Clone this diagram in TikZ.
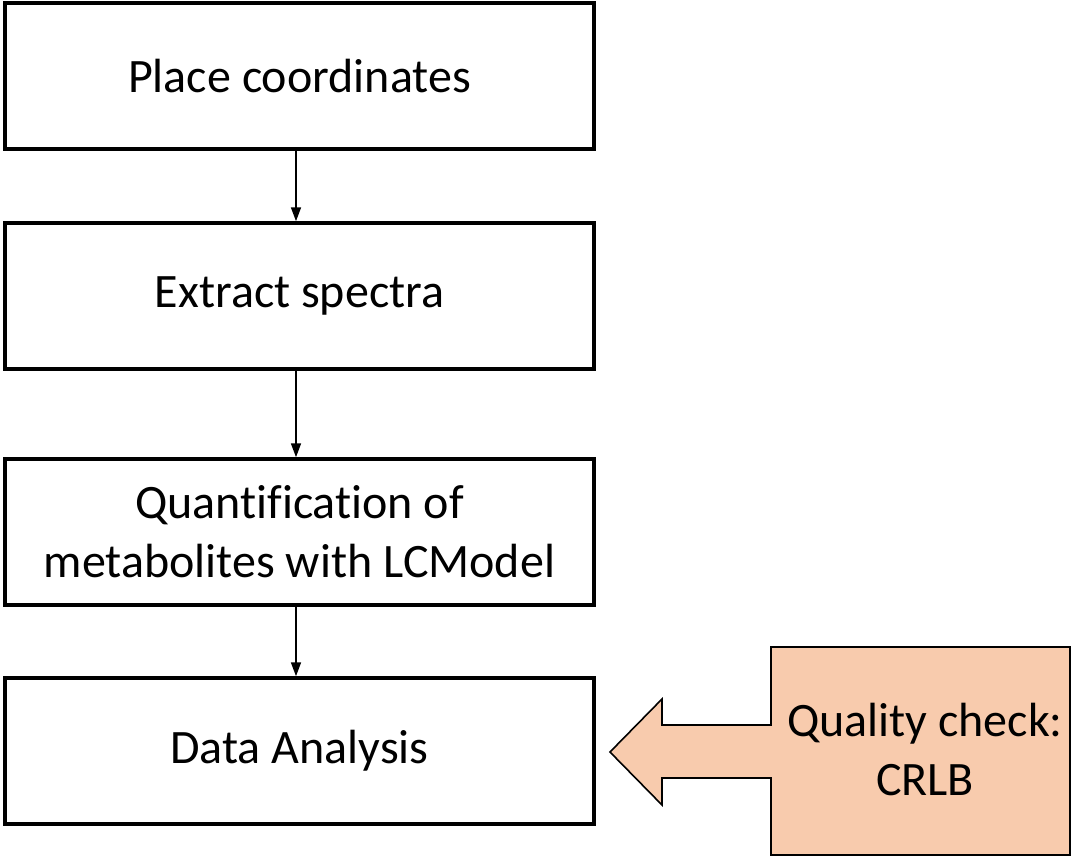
\documentclass[tikz,border=0pt]{standalone}
\usepackage{fontspec}
\setmainfont[Ligatures=NoCommon]{Carlito}
\usetikzlibrary{arrows.meta}
\definecolor{qfill}{HTML}{F8CBAD}
\begin{document}
\begin{tikzpicture}[x=1pt,y=-1pt,
  txt/.style={align=center,inner sep=0pt,font=\fontsize{48}{59}\selectfont},
  stepbox/.style={txt,draw=black,line width=3.5pt,minimum width=589pt,minimum height=146pt},
  flow/.style={line width=1.6pt,-{Triangle[length=14pt,width=10pt]}}]
\useasboundingbox (0,0) rectangle (1072,857);
\node[stepbox] (a) at (299.5,76) {Place coordinates};
\node[stepbox] (b) at (299.5,296) {Extract spectra};
\node[stepbox] (c) at (299.5,532) {Quantification of\\metabolites with LCModel};
\node[stepbox] (d) at (299.5,751) {Data Analysis};
\draw[flow] (a.south -| 296,0) -- (b.north -| 296,0);
\draw[flow] (b.south -| 296,0) -- (c.north -| 296,0);
\draw[flow] (c.south -| 296,0) -- (d.north -| 296,0);
\draw[line width=1.6pt,fill=qfill,line join=miter]
  (771,647) -- (1070,647) -- (1070,855) -- (771,855) -- (771,778) -- (662,778) -- (662,805)
  -- (610,752) -- (662,699) -- (662,725) -- (771,725) -- cycle;
\node[txt] (q) at (925,749) {Quality check:\\CRLB};
\end{tikzpicture}
\end{document}
